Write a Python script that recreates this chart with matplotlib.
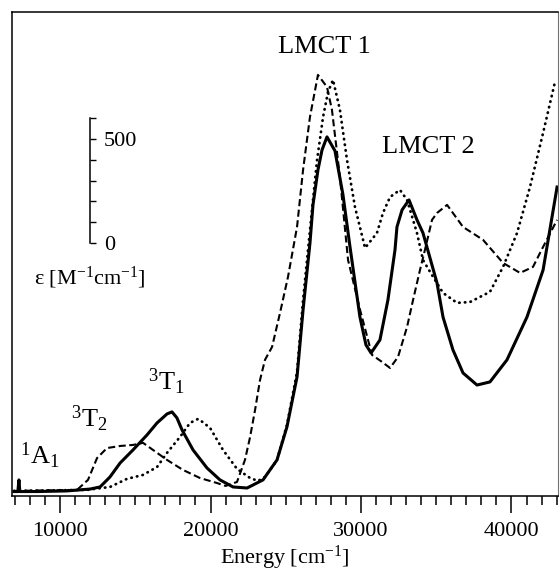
import matplotlib
matplotlib.use("Agg")
import matplotlib.pyplot as plt
from matplotlib.ticker import MultipleLocator

plt.rcParams['font.family'] = ['Liberation Serif', 'DejaVu Serif']
plt.rcParams['mathtext.fontset'] = 'custom'
plt.rcParams['mathtext.rm'] = 'Liberation Serif'
plt.rcParams['mathtext.it'] = 'Liberation Serif:italic'
plt.rcParams['mathtext.bf'] = 'Liberation Serif:bold'

# energy [cm-1] / epsilon [M-1 cm-1]
solid_x = [6940, 7200, 7270, 7330, 8500, 10460, 12000, 12660, 13320, 13990, 14850,
           15780, 16450, 17110, 17440, 17770, 18110, 18840, 19770, 20630, 21500,
           22430, 23490, 24420, 25080, 25750, 26150, 26610, 26810, 27140, 27410,
           27740, 28270, 28800, 29270, 29930, 30330, 30670, 31260, 31790, 32260,
           32390, 32730, 33190, 33720, 34120, 35050, 35450, 36110, 36780, 37710,
           38570, 39700, 41030, 42100, 43030]
solid_y = [2, 2, 58, 2, 2, 5, 14, 24, 72, 139, 202,
           274, 332, 375, 385, 356, 298, 202, 115, 58, 24,
           19, 58, 154, 313, 553, 875, 1197, 1380, 1548, 1644,
           1707, 1640, 1430, 1178, 841, 707, 668, 731, 923, 1164,
           1274, 1356, 1404, 1308, 1245, 1005, 841, 683, 572, 514,
           529, 635, 841, 1067, 1466]

dash_x = [6940, 11130, 11860, 12460, 13120, 13990, 14850, 15520, 16450, 17110,
          18170, 19300, 20430, 21000, 21760, 22290, 22630, 22960, 23290, 23620,
          24090, 24620, 25150, 25750, 26150, 26610, 27140, 27740, 28070, 28600,
          29140, 29940, 30730, 31400, 31930, 32460, 33060, 33460, 33920, 34250,
          34720, 35050, 35720, 36780, 38110, 39440, 40570, 41430, 42100, 43030]
dash_y = [5, 10, 58, 163, 211, 221, 226, 236, 188, 154,
          106, 67, 43, 29, 48, 154, 264, 394, 538, 635,
          697, 861, 1034, 1274, 1548, 1803, 2005, 1947, 1837, 1514,
          1115, 875, 659, 625, 596, 649, 793, 923, 1067, 1164,
          1308, 1341, 1380, 1274, 1212, 1101, 1053, 1082, 1178, 1308]

dot_x = [6940, 11790, 13320, 14450, 15520, 16450, 17110, 17970, 18640, 19170,
         19300, 19970, 20830, 21760, 22630, 23160, 23620, 24420, 25080, 25750,
         26150, 26610, 27080, 27480, 27810, 28140, 28600, 29070, 29600, 30270,
         31060, 31460, 31930, 32590, 33060, 33720, 34120, 34790, 35450, 36380,
         37240, 38570, 39440, 40370, 41230, 42100, 42890]
dot_y = [5, 10, 24, 63, 82, 120, 188, 264, 332, 351,
         346, 308, 202, 111, 67, 53, 72, 154, 322, 577,
         923, 1260, 1596, 1803, 1923, 1981, 1837, 1596, 1370, 1173,
         1245, 1341, 1418, 1452, 1404, 1245, 1115, 1034, 957, 909,
         913, 962, 1082, 1245, 1466, 1726, 1971]

band_labels = [r'$^{1}$A$_{1}$', r'$^{3}$T$_{2}$', r'$^{3}$T$_{1}$', 'LMCT 1', 'LMCT 2']
band_x = [8640, 11930, 17040, 27540, 34450]
band_y = [173, 351, 529, 2140, 1659]

fig = plt.figure(figsize=(5.6, 5.73), dpi=100)
ax = fig.add_axes([0.0209, 0.1349, 0.9755, 0.8433])

ax.plot(solid_x, solid_y, color='black', lw=2.2, solid_joinstyle='round')
ax.plot(dash_x, dash_y, color='black', lw=1.5, dashes=(3.4, 1.7))
ax.plot(dot_x, dot_y, color='black', lw=2.0, dashes=(0.15, 1.9),
        dash_capstyle='round')

ax.set_xlim(6790, 43090)
ax.set_ylim(-18, 2305)

ax.xaxis.set_major_locator(MultipleLocator(10000))
ax.xaxis.set_minor_locator(MultipleLocator(1000))
ax.tick_params(axis='x', which='major', direction='out', length=12, width=1.1,
               labelsize=16, pad=7)
ax.tick_params(axis='x', which='minor', direction='out', length=6.5, width=1.1)
ax.tick_params(axis='y', left=False, labelleft=False)
ax.set_xlabel(r'Energy [cm$^{-1}$]', fontsize=16, labelpad=2)

for s in ['left', 'top', 'bottom']:
    ax.spines[s].set_linewidth(1.1)
ax.spines['right'].set_linewidth(0.8)
ax.spines['right'].set_color('0.45')

for lab, bx, by in zip(band_labels, band_x, band_y):
    ax.text(bx, by, lab, fontsize=19, ha='center', va='center')

# scale bar for epsilon
sb = ax.inset_axes([11990, 1197, 8, 601], transform=ax.transData)
sb.set_ylim(0, 601)
sb.set_xticks([])
for s in ['top', 'bottom', 'right']:
    sb.spines[s].set_visible(False)
sb.spines['left'].set_linewidth(1.1)
sb.patch.set_alpha(0)
sb.yaxis.set_major_locator(MultipleLocator(500))
sb.yaxis.set_minor_locator(MultipleLocator(100))
sb.tick_params(axis='y', which='both', left=True, right=False, direction='in',
               length=4, width=1.0, labelleft=False, labelright=True,
               labelsize=16, pad=10)
ax.text(12000, 1030, r'ε [M$^{-1}$cm$^{-1}$]', fontsize=16, ha='center', va='center')

fig.savefig('out.png', dpi=100)
